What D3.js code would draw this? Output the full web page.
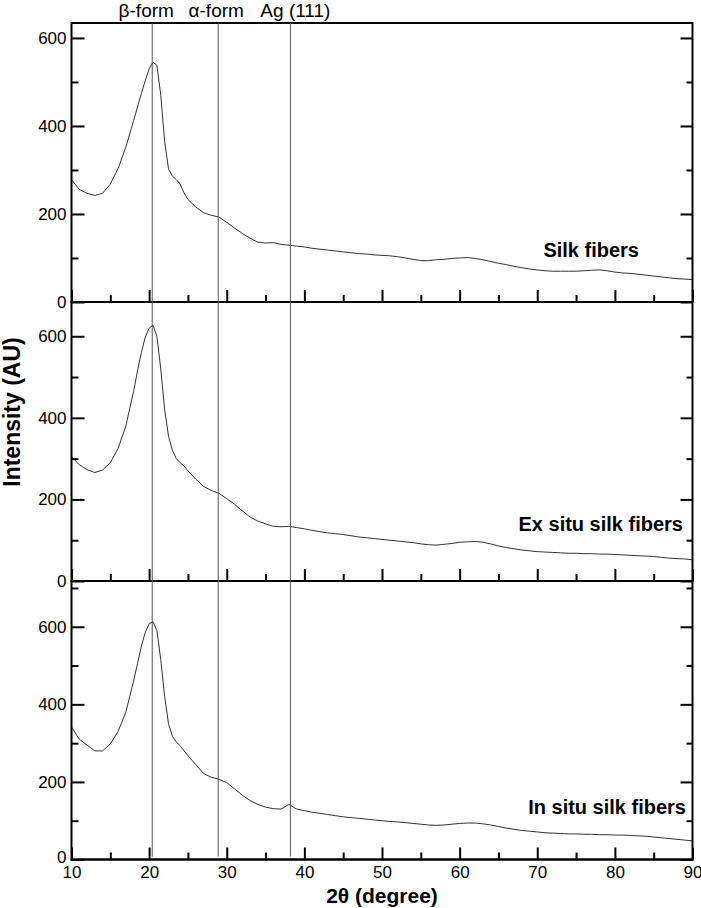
<!DOCTYPE html>
<html>
<head>
<meta charset="utf-8">
<script src="https://cdn.jsdelivr.net/npm/d3@7"></script>
<style>
  body { margin: 0; background: #fff; }
  text { font-family: "Liberation Sans", Arial, sans-serif; fill: #000; }
</style>
</head>
<body>
<script>
// 2-theta positions (degree)
var twoTheta = [10, 11, 12, 13, 14, 15, 16, 17, 18, 18.5, 19, 19.5, 20, 20.5, 21, 21.5, 22, 22.5, 23, 23.5, 24, 24.5, 25,
  26, 27, 28, 29, 30, 31, 32, 33, 34, 35, 36, 37, 38, 39, 40, 41, 42, 43, 44, 45, 46, 47, 48, 49, 50,
  51, 52, 53, 54, 55, 56, 57, 58, 59, 60, 61, 62, 63, 64, 65, 66, 67, 68, 69, 70,
  71, 72, 73, 74, 75, 76, 77, 78, 79, 80, 81, 82, 83, 84, 85, 86, 87, 88, 89, 90];

var silkFibers = [278, 256, 247, 242, 247, 268, 303, 352, 412, 443, 474, 503, 530, 545, 538, 470, 365, 302, 286, 278, 268, 248, 233,
  216, 203, 197, 193, 181, 168, 156, 145, 136, 134, 135, 131, 129, 127, 125, 122, 120, 118, 116, 114, 112, 110, 109, 107, 106,
  105, 103, 100, 97, 94, 94, 96, 97, 99, 100, 101, 99, 96, 92, 88, 85, 81, 78, 75, 73,
  71, 70, 70, 70, 70, 71, 72, 73, 71, 68, 66, 65, 63, 61, 59, 57, 55, 53, 52, 51];

var exSituFibers = [305, 285, 273, 266, 272, 290, 325, 380, 465, 515, 560, 598, 620, 627, 600, 520, 420, 355, 320, 300, 290, 282, 270,
  250, 232, 222, 215, 202, 188, 172, 157, 147, 140, 134, 133, 134, 131, 128, 124, 121, 118, 116, 114, 111, 108, 106, 104, 102,
  100, 98, 96, 94, 91, 89, 88, 90, 92, 95, 96, 97, 95, 91, 86, 82, 79, 76, 74, 72,
  71, 70, 69, 68, 68, 67, 67, 66, 66, 65, 64, 63, 62, 61, 60, 58, 56, 55, 54, 52];

var inSituFibers = [342, 310, 295, 280, 280, 298, 330, 380, 460, 505, 550, 585, 608, 613, 590, 515, 420, 350, 318, 303, 293, 280, 268,
  245, 222, 212, 207, 198, 182, 166, 152, 142, 135, 131, 130, 142, 130, 126, 122, 119, 116, 113, 110, 108, 106, 104, 102, 100,
  98, 97, 95, 93, 91, 89, 88, 89, 91, 93, 94, 94, 92, 89, 85, 81, 78, 75, 73, 71,
  69, 68, 67, 66, 66, 65, 65, 64, 64, 63, 63, 62, 61, 60, 58, 56, 54, 52, 50, 48];

var panelNames = ["Silk fibers", "Ex situ silk fibers", "In situ silk fibers"];
var peakPositions = [20.4, 28.9, 38.2];
var peakNames = ["β-form", "α-form", "Ag (111)"];
var xMajorTicks = [10, 20, 30, 40, 50, 60, 70, 80, 90];
var xMinorTicks = [15, 25, 35, 45, 55, 65, 75, 85];
var yMajorTicks = [0, 200, 400, 600];
var yMinorTicks = [100, 300, 500, 700];

var svgWidth = 701, svgHeight = 908;

var svg = d3.select("body").append("svg")
  .attr("width", svgWidth)
  .attr("height", svgHeight);

var left = 71.5, right = 692.5;

var xScale = d3.scaleLinear().domain([10, 90]).range([left, right]);

// each panel: top, bottom, y max
var panels = [
  { top: 23, bottom: 302, ymax: 634, values: silkFibers },
  { top: 302, bottom: 581, ymax: 684, values: exSituFibers },
  { top: 581, bottom: 859.5, ymax: 718, values: inSituFibers }
];

var line = d3.line()
  .x(function(d) { return xScale(d[0]); })
  .y(function(d) { return d[1]; });

function blackTicks(a) {
  a.select(".domain").remove();
  a.selectAll("line").attr("stroke", "#000").attr("stroke-width", 2);
  a.selectAll("text").attr("font-size", 17).attr("fill", "#000")
    .style("font-family", "Liberation Sans, Arial, sans-serif");
}

panels.forEach(function(p, i) {
  var yScale = d3.scaleLinear().domain([0, p.ymax]).range([p.bottom, p.top]);
  var g = svg.append("g");
  var isLast = i === panels.length - 1;

  // curve
  var pts = twoTheta.map(function(t, j) { return [t, yScale(p.values[j])]; });
  g.append("path")
    .attr("d", line(pts))
    .attr("fill", "none")
    .attr("stroke", "#333")
    .attr("stroke-width", 1);

  var yMajor = yMajorTicks.filter(function(v) { return v < p.ymax; });
  var yMinor = yMinorTicks.filter(function(v) { return v < p.ymax; });

  // left axis, ticks pointing in
  var leftAxis = g.append("g")
    .attr("transform", "translate(" + left + ",0)")
    .call(d3.axisLeft(yScale).tickValues(yMajor).tickSize(-13).tickPadding(5).tickFormat(d3.format("d")))
    .call(blackTicks);
  if (isLast) {
    // lift the bottom zero a bit so it does not sit on the "10"
    leftAxis.selectAll(".tick text").filter(function(d) { return d === 0; }).attr("dy", "0.15em");
  }
  g.append("g")
    .attr("transform", "translate(" + left + ",0)")
    .call(d3.axisLeft(yScale).tickValues(yMinor).tickSize(-7).tickFormat(""))
    .call(blackTicks);

  // right axis
  g.append("g")
    .attr("transform", "translate(" + right + ",0)")
    .call(d3.axisRight(yScale).tickValues(yMajor).tickSize(-12).tickFormat(""))
    .call(blackTicks);
  g.append("g")
    .attr("transform", "translate(" + right + ",0)")
    .call(d3.axisRight(yScale).tickValues(yMinor).tickSize(-6).tickFormat(""))
    .call(blackTicks);

  // bottom axis of each panel
  g.append("g")
    .attr("transform", "translate(0," + p.bottom + ")")
    .call(d3.axisBottom(xScale).tickValues(xMajorTicks).tickSize(-12).tickPadding(6)
      .tickFormat(isLast ? d3.format("d") : ""))
    .call(blackTicks);
  g.append("g")
    .attr("transform", "translate(0," + p.bottom + ")")
    .call(d3.axisBottom(xScale).tickValues(xMinorTicks).tickSize(-7).tickFormat(""))
    .call(blackTicks);

  g.append("line")
    .attr("x1", left - 1).attr("x2", right + 1)
    .attr("y1", p.bottom).attr("y2", p.bottom)
    .attr("stroke", "#000").attr("stroke-width", 2);
});

// outer frame
svg.append("rect")
  .attr("x", left).attr("y", panels[0].top)
  .attr("width", right - left).attr("height", panels[2].bottom - panels[0].top)
  .attr("fill", "none").attr("stroke", "#000").attr("stroke-width", 2);

// peak reference lines
svg.selectAll(".peak")
  .data(peakPositions)
  .enter()
  .append("line")
  .attr("class", "peak")
  .attr("x1", function(d) { return xScale(d); })
  .attr("x2", function(d) { return xScale(d); })
  .attr("y1", panels[0].top)
  .attr("y2", panels[2].bottom - 3)
  .attr("stroke", "#555")
  .attr("stroke-width", 1);

var peakLabelShift = [-6, -2, 5];
svg.selectAll(".peakLabel")
  .data(peakNames)
  .enter()
  .append("text")
  .attr("class", "peakLabel")
  .attr("x", function(d, i) { return xScale(peakPositions[i]) + peakLabelShift[i]; })
  .attr("y", 17)
  .attr("text-anchor", "middle")
  .attr("font-size", 19)
  .text(function(d) { return d; });

// panel labels
var labelPos = [[639, 257], [683, 531], [686, 814]];
svg.selectAll(".panelLabel")
  .data(panelNames)
  .enter()
  .append("text")
  .attr("class", "panelLabel")
  .attr("x", function(d, i) { return labelPos[i][0]; })
  .attr("y", function(d, i) { return labelPos[i][1]; })
  .attr("text-anchor", "end")
  .attr("font-size", 20)
  .attr("font-weight", "bold")
  .text(function(d) { return d; });

// axis titles
svg.append("text")
  .attr("x", (left + right) / 2)
  .attr("y", 903)
  .attr("text-anchor", "middle")
  .attr("font-size", 21)
  .attr("font-weight", "bold")
  .text("2θ (degree)");

svg.append("text")
  .attr("transform", "translate(20," + 412 + ") rotate(-90)")
  .attr("text-anchor", "middle")
  .attr("font-size", 23)
  .attr("font-weight", "bold")
  .text("Intensity (AU)");
</script>
</body>
</html>
